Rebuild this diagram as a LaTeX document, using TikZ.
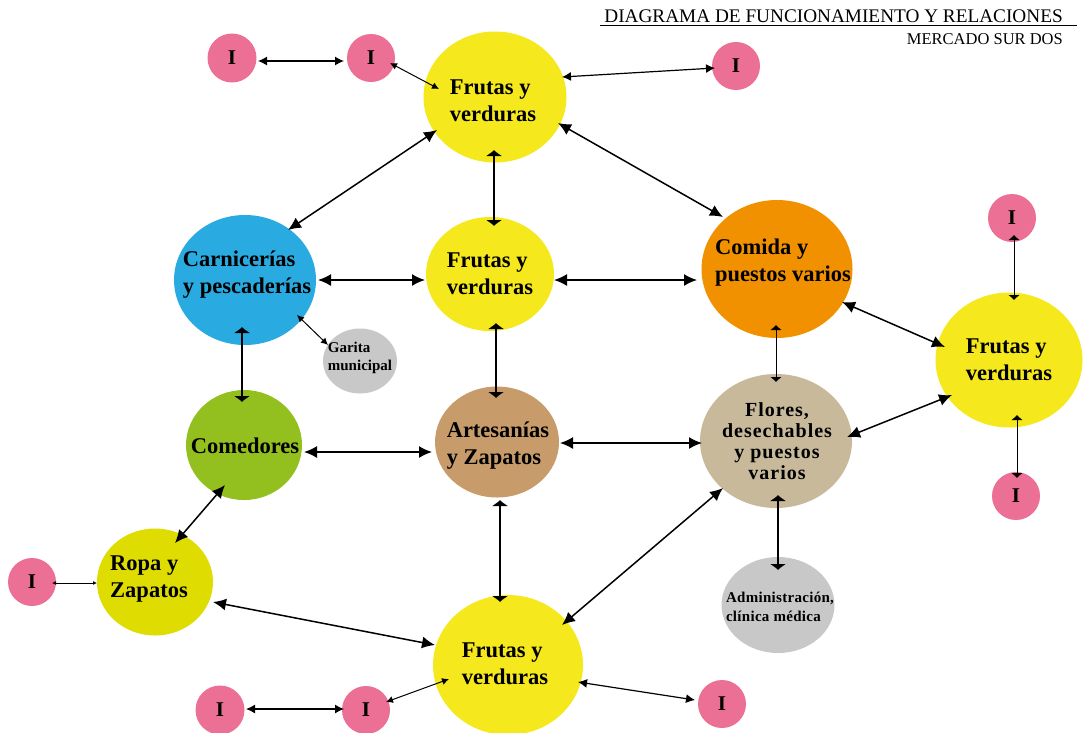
\documentclass[tikz,border=0pt]{standalone}
\usepackage{fontspec}
\setmainfont{Liberation Serif}
\usetikzlibrary{shapes.geometric,arrows.meta,calc}
\definecolor{cpink}{RGB}{236,111,149}
\definecolor{cyel}{RGB}{245,232,28}
\definecolor{cblue}{RGB}{41,170,225}
\definecolor{corange}{RGB}{242,145,0}
\definecolor{cgreen}{RGB}{148,192,31}
\definecolor{cbrown}{RGB}{199,156,106}
\definecolor{cbeige}{RGB}{200,185,155}
\definecolor{cgray}{RGB}{200,200,200}
\definecolor{colive}{RGB}{222,220,0}
\begin{document}
\begin{tikzpicture}[x=1pt,y=-1pt,
  ell/.style={ellipse,inner sep=0pt,draw=none},
  ibub/.style={circle,fill=cpink,inner sep=0pt,minimum size=48pt,font=\bfseries\fontsize{21}{21}\selectfont},
  lbl/.style={inner sep=0pt,align=left,font=\bfseries\fontsize{22.5}{27}\selectfont},
  lblc/.style={lbl,align=center},
  big/.style={line width=1.5pt,arrows={Latex[length=13pt,width=12pt]-Latex[length=13pt,width=12pt]}},
  med/.style={line width=1.2pt,arrows={Latex[length=9pt,width=9pt]-Latex[length=9pt,width=9pt]}},
  sml/.style={line width=1pt,arrows={Latex[length=7pt,width=7pt]-Latex[length=7pt,width=7pt]}},
  tiny/.style={line width=0.8pt,arrows={Latex[length=4pt,width=4pt]-Latex[length=4pt,width=4pt]}},
  wide/.style={line width=1.5pt,arrows={Latex[length=6pt,width=17pt]-Latex[length=6pt,width=17pt]}},
  wides/.style={line width=1pt,arrows={Latex[length=5pt,width=12pt]-Latex[length=5pt,width=12pt]}}
]
\useasboundingbox (0,0) rectangle (1083,732);

% title
\node[anchor=base east,inner sep=0pt,font=\fontsize{19.25}{20}\selectfont] (title) at (1063,22) {DIAGRAMA DE FUNCIONAMIENTO Y RELACIONES};
\node[anchor=base east,inner sep=0pt,font=\fontsize{16.5}{17}\selectfont] (sub) at (1063,44) {MERCADO SUR DOS};
\draw[line width=0.8pt] ($(title.base west)+(-4,3)$) -- ($(title.base east)+(14,3)$);

% I nodes
\node[ibub,minimum size=49pt] (i1) at (232,58) {I};
\node[ibub] (i2) at (371,58) {I};
\node[ibub] (i3) at (736,66) {I};
\node[ibub] (i4) at (1012,218) {I};
\node[ibub] (i5) at (1016,496) {I};
\node[ibub] (i6) at (32,582) {I};
\node[ibub,minimum size=49pt] (i7) at (220,710) {I};
\node[ibub] (i8) at (366,710) {I};
\node[ibub] (i9) at (722,704) {I};

% main ellipses
\node[ell,fill=cyel,minimum width=143pt,minimum height=131pt] (f1) at (495,97) {};
\node[lbl] (f1t) at ($(f1)+(-2,4)$) {Frutas y\\verduras};
\node[ell,fill=cblue,minimum width=142pt,minimum height=130pt] (carn) at (245,280) {};
\node[lbl] (carnt) at ($(carn)+(2,-5)$) {Carnicerías\\y pescaderías};
\node[ell,fill=cyel,minimum width=128pt,minimum height=114pt] (f2) at (490,274) {};
\node[lbl] (f2t) at ($(f2)+(0,0)$) {Frutas y\\verduras};
\node[ell,fill=corange,minimum width=151pt,minimum height=138pt] (comida) at (777,269) {};
\node[lbl] (comidat) at ($(comida)+(6,-6)$) {Comida y\\puestos varios};
\node[ell,fill=cyel,minimum width=147pt,minimum height=135pt] (f3) at (1009,360) {};
\node[lbl] (f3t) at ($(f3)+(0,0)$) {Frutas y\\verduras};
\node[ell,fill=cgray,minimum width=74pt,minimum height=65pt] (gar) at (360,361) {};
\node[lbl,font=\bfseries\fontsize{15}{18}\selectfont] (gart) at ($(gar)+(0,-3)$) {Garita\\municipal};
\node[ell,fill=cgreen,minimum width=116pt,minimum height=110pt] (comed) at (244,445) {};
\node[lbl] (comedt) at ($(comed)+(1,1)$) {Comedores};
\node[ell,fill=cbrown,minimum width=124pt,minimum height=111pt] (art) at (497,442) {};
\node[lbl] (artt) at ($(art)+(1,4)$) {Artesanías\\y Zapatos};
\node[ell,fill=cbeige,minimum width=152pt,minimum height=134pt] (flores) at (776,441) {};
\node[lblc,font=\bfseries\fontsize{20}{21}\selectfont\addfontfeature{LetterSpace=5}] (florest) at ($(flores)+(1,0)$) {Flores,\\desechables\\y puestos\\varios};
\node[ell,fill=cgray,minimum width=113pt,minimum height=96pt] (admin) at (778,605) {};
\node[lbl,font=\bfseries\fontsize{15}{19}\selectfont\addfontfeature{LetterSpace=2}] (admint) at ($(admin)+(2,2)$) {Administración,\\clínica médica};
\node[ell,fill=colive,minimum width=116pt,minimum height=107pt] (ropa) at (155,582) {};
\node[lbl] (ropat) at ($(ropa)+(-6,-3)$) {Ropa y\\Zapatos};
\node[ell,fill=cyel,minimum width=150pt,minimum height=140pt] (f4) at (508,665) {};
\node[lbl] (f4t) at ($(f4)+(-3,-1)$) {Frutas y\\verduras};

% connectors
\draw[med]  ($(i1)+(26,3)$) -- ($(i2)+(-27,3)$);
\draw[sml]  ($(i2)+(19,5)$) -- ($(f1)+(-56,-8)$);
\draw[med]  ($(f1)+(67,-20)$) -- ($(i3)+(-21,2)$);
\draw[big]  ($(f1)+(-58,33)$) -- ($(carn)+(43,-50)$);
\draw[wide] ($(f1)+(-1,53)$) -- ($(f2)+(4,-48)$);
\draw[big]  ($(f1)+(63,26)$) -- ($(comida)+(-54,-52)$);
\draw[big]  ($(carn)+(73,0)$) -- ($(f2)+(-65,6)$);
\draw[big]  ($(f2)+(64,6)$) -- ($(comida)+(-80,11)$);
\draw[sml]  ($(carn)+(52,35)$) -- ($(gar)+(-32,-16)$);
\draw[wide] ($(carn)+(-3,47)$) -- ($(comed)+(-2,-43)$);
\draw[wide] ($(f2)+(6,49)$) -- ($(art)+(-1,-44)$);
\draw[wides] ($(comida)+(-1,56)$) -- ($(flores)+(0,-59)$);
\draw[big]  ($(comida)+(65,33)$) -- ($(f3)+(-64,-13)$);
\draw[wides] ($(i4)+(2,17)$) -- ($(f3)+(5,-60)$);
\draw[big]  ($(comed)+(60,7)$) -- ($(art)+(-65,10)$);
\draw[big]  ($(art)+(63,1)$) -- ($(flores)+(-74,2)$);
\draw[big]  ($(flores)+(71,-4)$) -- ($(f3)+(-57,35)$);
\draw[wides] ($(f3)+(8,55)$) -- ($(i5)+(1,-18)$);
\draw[wide] ($(flores)+(2,54)$) -- ($(admin)+(0,-35)$);
\draw[big]  ($(comed)+(-19,40)$) -- ($(ropa)+(20,-39)$);
\draw[tiny] ($(i6)+(20,1)$) -- ($(ropa)+(-58,1)$);
\draw[big]  ($(ropa)+(58,20)$) -- ($(f4)+(-73,-20)$);
\draw[wide] ($(art)+(3,58)$) -- ($(f4)+(-8,-63)$);
\draw[big]  ($(flores)+(-53,47)$) -- ($(f4)+(54,-40)$);
\draw[med]  ($(i7)+(26,-1)$) -- ($(i8)+(-22,-1)$);
\draw[sml]  ($(i8)+(20,-8)$) -- ($(f4)+(-59,14)$);
\draw[med]  ($(f4)+(70,17)$) -- ($(i9)+(-27,-4)$);
\end{tikzpicture}
\end{document}
